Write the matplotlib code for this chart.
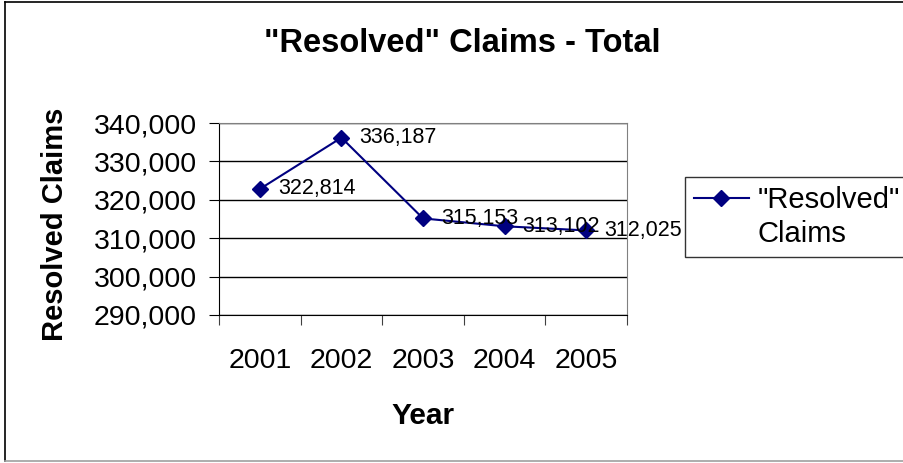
import matplotlib.pyplot as plt
from matplotlib.lines import Line2D
from matplotlib.ticker import FuncFormatter

plt.rcParams['font.family'] = ['Liberation Sans', 'DejaVu Sans']

# resolved claims per year
years = ['2001', '2002', '2003', '2004', '2005']
resolved = [322814, 336187, 315153, 313102, 312025]

navy = '#000080'

fig = plt.figure(figsize=(9.04, 4.63), dpi=100)
ax = fig.add_axes([0.2423, 0.3197, 0.4513, 0.4146])

x = list(range(1, len(years) + 1))
line, = ax.plot(x, resolved, color=navy, lw=1.5, marker='D', ms=8, mec=navy,
                mfc=navy, zorder=3)
for xi, v in zip(x, resolved):
    ax.annotate(f'{v:,}', (xi, v), xytext=(13, 0), textcoords='offset points',
                va='center', ha='left', fontsize=15.5, zorder=4)

ax.set_ylim(290000, 340000)
ax.set_yticks(range(290000, 340001, 10000))
ax.yaxis.set_major_formatter(FuncFormatter(lambda v, p: f'{int(v):,}'))
ax.yaxis.grid(True, color='black', lw=1)
ax.set_axisbelow(True)

# category axis: ticks between the years, labels centred on them
ax.set_xlim(0.5, len(years) + 0.5)
ax.set_xticks([i + 0.5 for i in range(len(years) + 1)])
ax.set_xticklabels([])
ax.set_xticks(x, minor=True)
ax.set_xticklabels(years, minor=True)
ax.tick_params(axis='x', which='major', length=7, direction='out', color='#404040')
ax.tick_params(axis='x', which='minor', length=0, pad=24, labelsize=20.5)
ax.tick_params(axis='y', length=7, direction='out', pad=9, labelsize=20.5)

for s in ['top', 'right']:
    ax.spines[s].set_color('#808080')
for s in ['left', 'bottom']:
    ax.spines[s].set_color('black')

ax.set_xlabel('Year', fontsize=21.5, fontweight='bold', labelpad=20)
ax.set_ylabel('Resolved Claims', fontsize=21, fontweight='bold', labelpad=18,
              y=0.474)
fig.suptitle('"Resolved" Claims - Total', x=0.511, y=0.94, fontsize=23.5,
             fontweight='bold')

# legend: marker beside the first line of the wrapped series name
blank = Line2D([], [], color='none')
leg = ax.legend([line, blank], ['"Resolved"', 'Claims'], loc='upper left',
                bbox_to_anchor=(685 / 904, 1 - 177 / 463),
                bbox_transform=fig.transFigure, borderaxespad=0, fontsize=21,
                frameon=True, fancybox=False, handlelength=1.9,
                labelspacing=0.22, borderpad=0.3, handletextpad=0.28)
leg.get_frame().set_edgecolor('black')
leg.get_frame().set_linewidth(1)

# chart area border (left, top, bottom)
fig.add_artist(Line2D([5 / 904, 5 / 904], [0.004, 0.996], color='black', lw=1.2,
                      transform=fig.transFigure))
fig.add_artist(Line2D([5 / 904, 1], [0.996, 0.996], color='black', lw=1.2,
                      transform=fig.transFigure))
fig.add_artist(Line2D([5 / 904, 1], [0.004, 0.004], color='#a0a0a0', lw=1.2,
                      transform=fig.transFigure))

fig.savefig('out.png', dpi=100)
